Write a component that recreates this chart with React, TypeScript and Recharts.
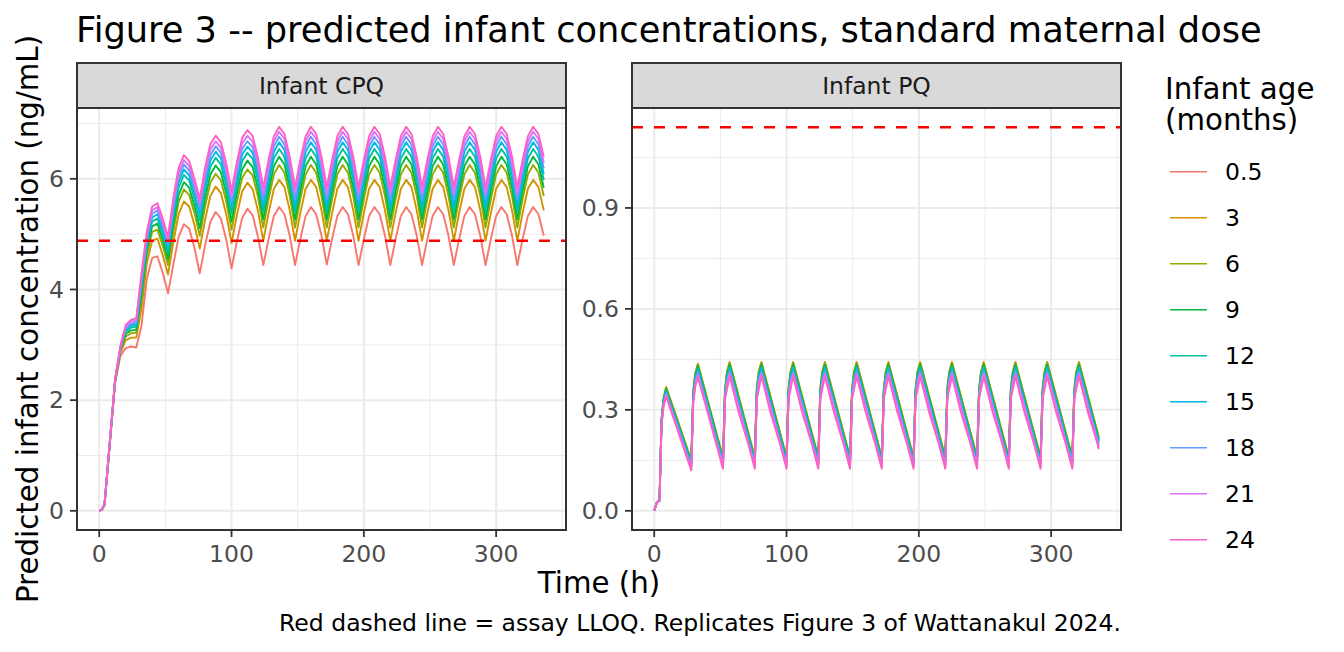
import React from 'react';
import { LineChart, Line, XAxis, YAxis, CartesianGrid, ReferenceLine } from 'recharts';

const FONT = 'DejaVu Sans';

const AGE_LABELS = ['0.5', '3', '6', '9', '12', '15', '18', '21', '24'];
const AGE_COLORS = ['#F8766D', '#D39200', '#93AA00', '#00BA38', '#00C19F', '#00B9E3', '#619CFF', '#DB72FB', '#FF61C3'];

const LLOQ_CPQ = 4.88;
const LLOQ_PQ = 1.14;

const X_TICKS = [0, 100, 200, 300];
const X_MINOR = [50, 150, 250, 350];
const CPQ_Y_TICKS = [0, 2, 4, 6];
const CPQ_Y_MINOR = [1, 3, 5, 7];
const PQ_Y_TICKS = [0, 0.3, 0.6, 0.9];
const PQ_Y_MINOR = [0.15, 0.45, 0.75, 1.05];

// ---------------- Infant CPQ (ng/mL) ----------------
const CPQ_TIME = [
  0, 2, 4, 8, 12, 16, 20, 24, 28, 32, 36, 40, 44, 48, 52, 56, 60, 64, 68, 72, 76, 80, 84, 88, 92, 96, 100, 104, 108, 112, 116, 120,
  124, 128, 132, 136, 140, 144, 148, 152, 156, 160, 164, 168, 172, 176, 180, 184, 188, 192, 196, 200, 204, 208, 212, 216,
  220, 224, 228, 232, 236, 240, 244, 248, 252, 256, 260, 264, 268, 272, 276, 280, 284, 288, 292, 296, 300, 304, 308, 312,
  316, 320, 324, 328, 332, 336,
];

const CPQ_M0_5 = [
  0, 0.02, 0.1, 1.2, 2.3, 2.8, 2.94, 2.97, 2.95, 3.35, 4.2, 4.57, 4.6, 4.3, 3.93, 4.45, 4.95, 5.18, 5.1, 4.75, 4.29, 4.8, 5.22, 5.4, 5.28, 4.9, 4.38, 4.86, 5.29, 5.46, 5.34, 4.95,
  4.44, 4.91, 5.33, 5.49, 5.36, 4.97, 4.44, 4.91, 5.33, 5.49, 5.36, 4.97, 4.45, 4.91, 5.33, 5.49, 5.36, 4.97,
  4.44, 4.91, 5.33, 5.49, 5.36, 4.97, 4.44, 4.91, 5.33, 5.49, 5.36, 4.97, 4.44, 4.91, 5.33, 5.49, 5.36, 4.97,
  4.44, 4.91, 5.33, 5.49, 5.36, 4.97, 4.44, 4.91, 5.33, 5.49, 5.36, 4.97, 4.44, 4.91, 5.33, 5.49, 5.36, 4.97,
];
const CPQ_M3 = [
  0, 0.02, 0.11, 1.22, 2.33, 2.86, 3.08, 3.13, 3.13, 3.66, 4.48, 4.88, 4.92, 4.62, 4.27, 4.85, 5.36, 5.59, 5.5, 5.16, 4.74, 5.26, 5.69, 5.86, 5.74, 5.36, 4.84, 5.34, 5.77, 5.93, 5.81, 5.42,
  4.88, 5.38, 5.82, 5.98, 5.85, 5.43, 4.88, 5.38, 5.82, 5.98, 5.85, 5.43, 4.88, 5.38, 5.82, 5.98, 5.85, 5.43,
  4.88, 5.38, 5.82, 5.98, 5.85, 5.43, 4.88, 5.38, 5.82, 5.98, 5.85, 5.43, 4.88, 5.38, 5.82, 5.98, 5.85, 5.43,
  4.88, 5.38, 5.82, 5.98, 5.85, 5.43, 4.88, 5.38, 5.82, 5.98, 5.85, 5.43, 4.88, 5.38, 5.82, 5.98, 5.85, 5.43,
];
const CPQ_M6 = [
  0, 0.02, 0.11, 1.22, 2.34, 2.89, 3.15, 3.21, 3.22, 3.83, 4.63, 5.04, 5.08, 4.79, 4.44, 5.05, 5.58, 5.81, 5.71, 5.38, 4.97, 5.5, 5.93, 6.09, 5.97, 5.59, 5.08, 5.58, 6.02, 6.17, 6.06, 5.67,
  5.12, 5.63, 6.08, 6.25, 6.11, 5.69, 5.12, 5.63, 6.08, 6.25, 6.11, 5.69, 5.12, 5.63, 6.08, 6.25, 6.11, 5.69,
  5.12, 5.63, 6.08, 6.25, 6.11, 5.69, 5.12, 5.63, 6.08, 6.25, 6.11, 5.69, 5.12, 5.63, 6.08, 6.25, 6.11, 5.69,
  5.12, 5.63, 6.08, 6.25, 6.11, 5.69, 5.12, 5.63, 6.08, 6.25, 6.11, 5.69, 5.12, 5.63, 6.08, 6.25, 6.11, 5.69,
];
const CPQ_M9 = [
  0, 0.02, 0.11, 1.23, 2.35, 2.91, 3.2, 3.26, 3.27, 3.93, 4.72, 5.14, 5.19, 4.9, 4.55, 5.18, 5.71, 5.94, 5.84, 5.51, 5.11, 5.65, 6.08, 6.24, 6.12, 5.74, 5.23, 5.74, 6.17, 6.33, 6.21, 5.82,
  5.27, 5.78, 6.23, 6.4, 6.26, 5.84, 5.27, 5.78, 6.23, 6.4, 6.26, 5.84, 5.27, 5.78, 6.23, 6.4, 6.26, 5.84,
  5.27, 5.78, 6.23, 6.4, 6.26, 5.84, 5.27, 5.78, 6.23, 6.4, 6.26, 5.84, 5.27, 5.78, 6.23, 6.4, 6.26, 5.84,
  5.27, 5.78, 6.23, 6.4, 6.26, 5.84, 5.27, 5.78, 6.23, 6.4, 6.26, 5.84, 5.27, 5.78, 6.23, 6.4, 6.26, 5.84,
];
const CPQ_M12 = [
  0, 0.02, 0.11, 1.24, 2.36, 2.93, 3.24, 3.31, 3.33, 4.02, 4.8, 5.23, 5.28, 5.0, 4.65, 5.3, 5.84, 6.07, 5.97, 5.64, 5.25, 5.79, 6.22, 6.38, 6.26, 5.88, 5.37, 5.88, 6.32, 6.47, 6.36, 5.97,
  5.41, 5.92, 6.37, 6.54, 6.4, 5.98, 5.41, 5.92, 6.37, 6.54, 6.4, 5.98, 5.41, 5.92, 6.37, 6.54, 6.4, 5.98,
  5.41, 5.92, 6.37, 6.54, 6.4, 5.98, 5.41, 5.92, 6.37, 6.54, 6.4, 5.98, 5.41, 5.92, 6.37, 6.54, 6.4, 5.98,
  5.41, 5.92, 6.37, 6.54, 6.4, 5.98, 5.41, 5.92, 6.37, 6.54, 6.4, 5.98, 5.41, 5.92, 6.37, 6.54, 6.4, 5.98,
];
const CPQ_M15 = [
  0, 0.02, 0.12, 1.24, 2.36, 2.94, 3.27, 3.35, 3.37, 4.1, 4.87, 5.3, 5.36, 5.07, 4.74, 5.4, 5.94, 6.17, 6.06, 5.74, 5.36, 5.91, 6.33, 6.49, 6.37, 5.99, 5.49, 6.0, 6.44, 6.58, 6.47, 6.08,
  5.52, 6.03, 6.49, 6.66, 6.52, 6.09, 5.52, 6.03, 6.49, 6.66, 6.52, 6.09, 5.52, 6.03, 6.49, 6.66, 6.52, 6.09,
  5.52, 6.03, 6.49, 6.66, 6.52, 6.09, 5.52, 6.03, 6.49, 6.66, 6.52, 6.09, 5.52, 6.03, 6.49, 6.66, 6.52, 6.09,
  5.52, 6.03, 6.49, 6.66, 6.52, 6.09, 5.52, 6.03, 6.49, 6.66, 6.52, 6.09, 5.52, 6.03, 6.49, 6.66, 6.52, 6.09,
];
const CPQ_M18 = [
  0, 0.02, 0.12, 1.24, 2.37, 2.95, 3.3, 3.38, 3.41, 4.17, 4.93, 5.37, 5.43, 5.14, 4.81, 5.48, 6.03, 6.26, 6.15, 5.83, 5.45, 6.0, 6.43, 6.59, 6.47, 6.09, 5.58, 6.1, 6.54, 6.68, 6.57, 6.18,
  5.62, 6.13, 6.59, 6.76, 6.62, 6.19, 5.62, 6.13, 6.59, 6.76, 6.62, 6.19, 5.62, 6.13, 6.59, 6.76, 6.62, 6.19,
  5.62, 6.13, 6.59, 6.76, 6.62, 6.19, 5.62, 6.13, 6.59, 6.76, 6.62, 6.19, 5.62, 6.13, 6.59, 6.76, 6.62, 6.19,
  5.62, 6.13, 6.59, 6.76, 6.62, 6.19, 5.62, 6.13, 6.59, 6.76, 6.62, 6.19, 5.62, 6.13, 6.59, 6.76, 6.62, 6.19,
];
const CPQ_M21 = [
  0, 0.02, 0.12, 1.25, 2.37, 2.97, 3.33, 3.42, 3.44, 4.23, 4.99, 5.43, 5.49, 5.21, 4.88, 5.57, 6.11, 6.34, 6.23, 5.91, 5.55, 6.1, 6.53, 6.68, 6.56, 6.18, 5.68, 6.2, 6.64, 6.78, 6.67, 6.28,
  5.73, 6.23, 6.68, 6.85, 6.72, 6.29, 5.73, 6.23, 6.68, 6.85, 6.72, 6.29, 5.73, 6.23, 6.68, 6.85, 6.72, 6.29,
  5.73, 6.23, 6.68, 6.85, 6.72, 6.29, 5.73, 6.23, 6.68, 6.85, 6.72, 6.29, 5.73, 6.23, 6.68, 6.85, 6.72, 6.29,
  5.73, 6.23, 6.68, 6.85, 6.72, 6.29, 5.73, 6.23, 6.68, 6.85, 6.72, 6.29, 5.73, 6.23, 6.68, 6.85, 6.72, 6.29,
];
const CPQ_M24 = [
  0, 0.02, 0.12, 1.25, 2.38, 2.98, 3.36, 3.45, 3.48, 4.3, 5.05, 5.5, 5.56, 5.28, 4.95, 5.65, 6.2, 6.43, 6.32, 6.0, 5.64, 6.2, 6.63, 6.78, 6.66, 6.28, 5.78, 6.3, 6.74, 6.88, 6.77, 6.38,
  5.85, 6.34, 6.77, 6.94, 6.81, 6.4, 5.85, 6.34, 6.77, 6.94, 6.81, 6.4, 5.85, 6.34, 6.77, 6.94, 6.81, 6.4,
  5.85, 6.34, 6.77, 6.94, 6.81, 6.4, 5.85, 6.34, 6.77, 6.94, 6.81, 6.4, 5.85, 6.34, 6.77, 6.94, 6.81, 6.4,
  5.85, 6.34, 6.77, 6.94, 6.81, 6.4, 5.85, 6.34, 6.77, 6.94, 6.81, 6.4, 5.85, 6.34, 6.77, 6.94, 6.81, 6.4,
];
const CPQ_SERIES = [CPQ_M0_5, CPQ_M3, CPQ_M6, CPQ_M9, CPQ_M12, CPQ_M15, CPQ_M18, CPQ_M21, CPQ_M24];

// ---------------- Infant PQ (ng/mL) ----------------
const PQ_TIME = [
  0, 2,
  4, 5.5, 7, 9, 16, 23,
  28, 29.5, 31, 33, 40, 47,
  52, 53.5, 55, 57, 64, 71,
  76, 77.5, 79, 81, 88, 95,
  100, 101.5, 103, 105, 112, 119,
  124, 125.5, 127, 129, 136, 143,
  148, 149.5, 151, 153, 160, 167,
  172, 173.5, 175, 177, 184, 191,
  196, 197.5, 199, 201, 208, 215,
  220, 221.5, 223, 225, 232, 239,
  244, 245.5, 247, 249, 256, 263,
  268, 269.5, 271, 273, 280, 287,
  292, 293.5, 295, 297, 304, 311,
  316, 317.5, 319, 321, 328, 335,
  336,
];

const PQ_M0_5 = [
  0, 0.025,
  0.03, 0.265, 0.324, 0.356, 0.277, 0.198,
  0.142, 0.345, 0.396, 0.424, 0.322, 0.22,
  0.149, 0.349, 0.399, 0.427, 0.324, 0.221, 0.149, 0.349, 0.399, 0.427, 0.324, 0.221,
  0.149, 0.349, 0.399, 0.427, 0.324, 0.221, 0.149, 0.349, 0.399, 0.427, 0.324, 0.221,
  0.149, 0.349, 0.399, 0.427, 0.324, 0.221, 0.149, 0.349, 0.399, 0.427, 0.324, 0.221,
  0.149, 0.349, 0.399, 0.427, 0.324, 0.221, 0.149, 0.349, 0.399, 0.427, 0.324, 0.221,
  0.149, 0.349, 0.399, 0.427, 0.324, 0.221, 0.149, 0.349, 0.399, 0.427, 0.324, 0.221,
  0.149, 0.349, 0.399, 0.427, 0.324, 0.221, 0.149, 0.349, 0.399, 0.427, 0.324, 0.221,
  0.208,
];
const PQ_M3 = [
  0, 0.025,
  0.03, 0.27, 0.334, 0.368, 0.288, 0.207,
  0.15, 0.357, 0.408, 0.437, 0.334, 0.231,
  0.16, 0.363, 0.414, 0.442, 0.338, 0.234, 0.16, 0.363, 0.414, 0.442, 0.338, 0.234,
  0.16, 0.363, 0.414, 0.442, 0.338, 0.234, 0.16, 0.363, 0.414, 0.442, 0.338, 0.234,
  0.16, 0.363, 0.414, 0.442, 0.338, 0.234, 0.16, 0.363, 0.414, 0.442, 0.338, 0.234,
  0.16, 0.363, 0.414, 0.442, 0.338, 0.234, 0.16, 0.363, 0.414, 0.442, 0.338, 0.234,
  0.16, 0.363, 0.414, 0.442, 0.338, 0.234, 0.16, 0.363, 0.414, 0.442, 0.338, 0.234,
  0.16, 0.363, 0.414, 0.442, 0.338, 0.234, 0.16, 0.363, 0.414, 0.442, 0.338, 0.234,
  0.22,
];
const PQ_M6 = [
  0, 0.025,
  0.03, 0.27, 0.332, 0.366, 0.286, 0.205,
  0.148, 0.355, 0.406, 0.435, 0.332, 0.229,
  0.158, 0.361, 0.412, 0.44, 0.336, 0.232, 0.158, 0.361, 0.412, 0.44, 0.336, 0.232,
  0.158, 0.361, 0.412, 0.44, 0.336, 0.232, 0.158, 0.361, 0.412, 0.44, 0.336, 0.232,
  0.158, 0.361, 0.412, 0.44, 0.336, 0.232, 0.158, 0.361, 0.412, 0.44, 0.336, 0.232,
  0.158, 0.361, 0.412, 0.44, 0.336, 0.232, 0.158, 0.361, 0.412, 0.44, 0.336, 0.232,
  0.158, 0.361, 0.412, 0.44, 0.336, 0.232, 0.158, 0.361, 0.412, 0.44, 0.336, 0.232,
  0.158, 0.361, 0.412, 0.44, 0.336, 0.232, 0.158, 0.361, 0.412, 0.44, 0.336, 0.232,
  0.218,
];
const PQ_M9 = [
  0, 0.025,
  0.03, 0.268, 0.329, 0.362, 0.282, 0.202,
  0.145, 0.35, 0.402, 0.43, 0.328, 0.225,
  0.153, 0.355, 0.406, 0.434, 0.331, 0.227, 0.153, 0.355, 0.406, 0.434, 0.331, 0.227,
  0.153, 0.355, 0.406, 0.434, 0.331, 0.227, 0.153, 0.355, 0.406, 0.434, 0.331, 0.227,
  0.153, 0.355, 0.406, 0.434, 0.331, 0.227, 0.153, 0.355, 0.406, 0.434, 0.331, 0.227,
  0.153, 0.355, 0.406, 0.434, 0.331, 0.227, 0.153, 0.355, 0.406, 0.434, 0.331, 0.227,
  0.153, 0.355, 0.406, 0.434, 0.331, 0.227, 0.153, 0.355, 0.406, 0.434, 0.331, 0.227,
  0.153, 0.355, 0.406, 0.434, 0.331, 0.227, 0.153, 0.355, 0.406, 0.434, 0.331, 0.227,
  0.212,
];
const PQ_M12 = [
  0, 0.025,
  0.03, 0.265, 0.325, 0.357, 0.278, 0.198,
  0.141, 0.345, 0.396, 0.424, 0.322, 0.22,
  0.148, 0.35, 0.4, 0.428, 0.325, 0.222, 0.148, 0.35, 0.4, 0.428, 0.325, 0.222,
  0.148, 0.35, 0.4, 0.428, 0.325, 0.222, 0.148, 0.35, 0.4, 0.428, 0.325, 0.222,
  0.148, 0.35, 0.4, 0.428, 0.325, 0.222, 0.148, 0.35, 0.4, 0.428, 0.325, 0.222,
  0.148, 0.35, 0.4, 0.428, 0.325, 0.222, 0.148, 0.35, 0.4, 0.428, 0.325, 0.222,
  0.148, 0.35, 0.4, 0.428, 0.325, 0.222, 0.148, 0.35, 0.4, 0.428, 0.325, 0.222,
  0.148, 0.35, 0.4, 0.428, 0.325, 0.222, 0.148, 0.35, 0.4, 0.428, 0.325, 0.222,
  0.207,
];
const PQ_M15 = [
  0, 0.025,
  0.03, 0.262, 0.321, 0.353, 0.273, 0.193,
  0.136, 0.338, 0.389, 0.417, 0.316, 0.214,
  0.143, 0.343, 0.393, 0.421, 0.319, 0.216, 0.143, 0.343, 0.393, 0.421, 0.319, 0.216,
  0.143, 0.343, 0.393, 0.421, 0.319, 0.216, 0.143, 0.343, 0.393, 0.421, 0.319, 0.216,
  0.143, 0.343, 0.393, 0.421, 0.319, 0.216, 0.143, 0.343, 0.393, 0.421, 0.319, 0.216,
  0.143, 0.343, 0.393, 0.421, 0.319, 0.216, 0.143, 0.343, 0.393, 0.421, 0.319, 0.216,
  0.143, 0.343, 0.393, 0.421, 0.319, 0.216, 0.143, 0.343, 0.393, 0.421, 0.319, 0.216,
  0.143, 0.343, 0.393, 0.421, 0.319, 0.216, 0.143, 0.343, 0.393, 0.421, 0.319, 0.216,
  0.202,
];
const PQ_M18 = [
  0, 0.025,
  0.03, 0.259, 0.317, 0.349, 0.269, 0.188,
  0.131, 0.333, 0.383, 0.411, 0.31, 0.209,
  0.138, 0.337, 0.386, 0.414, 0.312, 0.211, 0.138, 0.337, 0.386, 0.414, 0.312, 0.211,
  0.138, 0.337, 0.386, 0.414, 0.312, 0.211, 0.138, 0.337, 0.386, 0.414, 0.312, 0.211,
  0.138, 0.337, 0.386, 0.414, 0.312, 0.211, 0.138, 0.337, 0.386, 0.414, 0.312, 0.211,
  0.138, 0.337, 0.386, 0.414, 0.312, 0.211, 0.138, 0.337, 0.386, 0.414, 0.312, 0.211,
  0.138, 0.337, 0.386, 0.414, 0.312, 0.211, 0.138, 0.337, 0.386, 0.414, 0.312, 0.211,
  0.138, 0.337, 0.386, 0.414, 0.312, 0.211, 0.138, 0.337, 0.386, 0.414, 0.312, 0.211,
  0.196,
];
const PQ_M21 = [
  0, 0.025,
  0.03, 0.256, 0.314, 0.345, 0.264, 0.184,
  0.126, 0.326, 0.376, 0.404, 0.304, 0.203,
  0.132, 0.33, 0.38, 0.407, 0.306, 0.204, 0.132, 0.33, 0.38, 0.407, 0.306, 0.204,
  0.132, 0.33, 0.38, 0.407, 0.306, 0.204, 0.132, 0.33, 0.38, 0.407, 0.306, 0.204,
  0.132, 0.33, 0.38, 0.407, 0.306, 0.204, 0.132, 0.33, 0.38, 0.407, 0.306, 0.204,
  0.132, 0.33, 0.38, 0.407, 0.306, 0.204, 0.132, 0.33, 0.38, 0.407, 0.306, 0.204,
  0.132, 0.33, 0.38, 0.407, 0.306, 0.204, 0.132, 0.33, 0.38, 0.407, 0.306, 0.204,
  0.132, 0.33, 0.38, 0.407, 0.306, 0.204, 0.132, 0.33, 0.38, 0.407, 0.306, 0.204,
  0.19,
];
const PQ_M24 = [
  0, 0.025,
  0.03, 0.25, 0.31, 0.34, 0.259, 0.178,
  0.12, 0.319, 0.369, 0.397, 0.297, 0.196,
  0.125, 0.335, 0.36, 0.4, 0.29, 0.2, 0.125, 0.335, 0.36, 0.4, 0.29, 0.2,
  0.125, 0.335, 0.36, 0.4, 0.29, 0.2, 0.125, 0.335, 0.36, 0.4, 0.29, 0.2,
  0.125, 0.335, 0.36, 0.4, 0.29, 0.2, 0.125, 0.335, 0.36, 0.4, 0.29, 0.2,
  0.125, 0.335, 0.36, 0.4, 0.29, 0.2, 0.125, 0.335, 0.36, 0.4, 0.29, 0.2,
  0.125, 0.335, 0.36, 0.4, 0.29, 0.2, 0.125, 0.335, 0.36, 0.4, 0.29, 0.2,
  0.125, 0.335, 0.36, 0.4, 0.29, 0.2, 0.125, 0.335, 0.36, 0.4, 0.29, 0.2,
  0.183,
];
const PQ_SERIES = [PQ_M0_5, PQ_M3, PQ_M6, PQ_M9, PQ_M12, PQ_M15, PQ_M18, PQ_M21, PQ_M24];

const TICK_STYLE = { fontSize: 23.5, fill: '#4D4D4D', fontFamily: FONT };
const TICK_LINE = { stroke: '#333333', strokeWidth: 1.8 };

type PanelProps = {
  left: number;
  title: string;
  time: number[];
  series: number[][];
  lloq: number;
  yDomain: [number, number];
  yTicks: number[];
  yMinor: number[];
  fmt: (v: number) => string;
};

function Panel({ left, title, time, series, lloq, yDomain, yTicks, yMinor, fmt }: PanelProps) {
  const rows = time.map((t, i) => {
    const r: Record<string, number> = { t };
    series.forEach((s, j) => {
      r['s' + j] = s[i];
    });
    return r;
  });
  return (
    <>
      <div style={{ position: 'absolute', left, top: 0 }}>
        <LineChart width={570} height={600} data={rows} margin={{ top: 108, right: 4, bottom: 40, left: 0 }}>
          <CartesianGrid stroke="#EBEBEB" strokeWidth={1} horizontalValues={yMinor} verticalValues={X_MINOR} />
          <CartesianGrid stroke="#EBEBEB" strokeWidth={2} horizontalValues={yTicks} verticalValues={X_TICKS} />
          <XAxis
            dataKey="t"
            type="number"
            domain={[-16.8, 352.8]}
            ticks={X_TICKS}
            allowDataOverflow
            interval={0}
            height={30}
            axisLine={false}
            tickSize={7}
            tickMargin={8}
            tickLine={TICK_LINE}
            tick={TICK_STYLE}
          />
          <YAxis
            type="number"
            domain={yDomain}
            ticks={yTicks}
            allowDataOverflow
            interval={0}
            width={77}
            axisLine={false}
            tickSize={7}
            tickMargin={6}
            tickLine={TICK_LINE}
            tick={TICK_STYLE}
            tickFormatter={fmt}
          />
          {series.map((_, j) => (
            <Line
              key={j}
              dataKey={'s' + j}
              type="linear"
              stroke={AGE_COLORS[j]}
              strokeWidth={1.9}
              strokeLinejoin="round"
              dot={false}
              activeDot={false}
              isAnimationActive={false}
            />
          ))}
          <ReferenceLine y={lloq} stroke="#FF0000" strokeWidth={2.5} strokeDasharray="11 11" />
        </LineChart>
      </div>
      <div
        style={{
          position: 'absolute',
          left: left + 76,
          top: 62,
          width: 491,
          height: 47,
          boxSizing: 'border-box',
          border: '2px solid #333333',
          background: '#D9D9D9',
          display: 'flex',
          alignItems: 'center',
          justifyContent: 'center',
          fontFamily: FONT,
          fontSize: 23.5,
          color: '#1A1A1A',
        }}
      >
        {title}
      </div>
      <div
        style={{
          position: 'absolute',
          left: left + 76,
          top: 107,
          width: 491,
          height: 424,
          boxSizing: 'border-box',
          border: '2px solid #333333',
          pointerEvents: 'none',
        }}
      />
    </>
  );
}

export default function App() {
  return (
    <div style={{ position: 'absolute', left: 0, top: 0, width: 1344, height: 652, background: '#FFFFFF', overflow: 'hidden' }}>
      <Panel
        left={0}
        title="Infant CPQ"
        time={CPQ_TIME}
        series={CPQ_SERIES}
        lloq={LLOQ_CPQ}
        yDomain={[-0.347, 7.28]}
        yTicks={CPQ_Y_TICKS}
        yMinor={CPQ_Y_MINOR}
        fmt={(v) => String(v)}
      />
      <Panel
        left={555}
        title="Infant PQ"
        time={PQ_TIME}
        series={PQ_SERIES}
        lloq={LLOQ_PQ}
        yDomain={[-0.057, 1.197]}
        yTicks={PQ_Y_TICKS}
        yMinor={PQ_Y_MINOR}
        fmt={(v) => v.toFixed(1)}
      />
      <svg width={1344} height={652} style={{ position: 'absolute', left: 0, top: 0, pointerEvents: 'none' }} fontFamily={FONT}>
        <text x={76} y={41.7} fontSize={35.2} fill="#000000">
          Figure 3 -- predicted infant concentrations, standard maternal dose
        </text>
        <text x={599} y={593} fontSize={29.3} fill="#000000" textAnchor="middle">
          Time (h)
        </text>
        <text transform="translate(38,319) rotate(-90)" fontSize={29.3} fill="#000000" textAnchor="middle">
          Predicted infant concentration (ng/mL)
        </text>
        <text x={1121} y={631} fontSize={23.5} fill="#000000" textAnchor="end">
          Red dashed line = assay LLOQ. Replicates Figure 3 of Wattanakul 2024.
        </text>
        <text x={1165} y={99} fontSize={29.3} fill="#000000">
          Infant age
        </text>
        <text x={1165} y={130} fontSize={29.3} fill="#000000">
          (months)
        </text>
        {AGE_LABELS.map((lab, i) => (
          <g key={lab}>
            <line x1={1170} x2={1207} y1={171.7 + 46 * i} y2={171.7 + 46 * i} stroke={AGE_COLORS[i]} strokeWidth={1.4} />
            <text x={1225} y={180 + 46 * i} fontSize={23.5} fill="#000000">
              {lab}
            </text>
          </g>
        ))}
      </svg>
    </div>
  );
}
